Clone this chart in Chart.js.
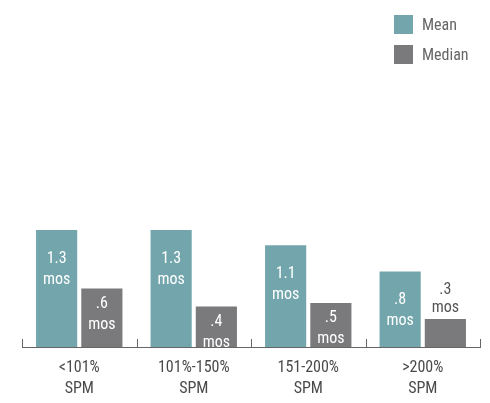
<!DOCTYPE html>
<html>
<head>
<meta charset="utf-8">
<script src="https://cdn.jsdelivr.net/npm/chart.js@4/dist/chart.umd.min.js"></script>
<style>
  html, body { margin: 0; padding: 0; background: #fff; }
  #wrap { position: relative; width: 490px; height: 403px; }
  #legend { position: absolute; left: 394px; top: 14px; font-family: 'Liberation Sans Narrow', 'Roboto Condensed', Roboto, sans-serif; font-size: 16px; color: #666; }
  #legend div { display: flex; align-items: center; height: 20px; margin-bottom: 10px; }
  #legend span.box { display: inline-block; width: 19px; height: 19px; margin-right: 9px; }
</style>
</head>
<body>
<div id="wrap">
  <canvas id="chart" width="490" height="403"></canvas>
  <div id="legend"></div>
</div>
<script>
// categories (two-line labels)
const categories = [['<101%', 'SPM'], ['101%-150%', 'SPM'], ['151-200%', 'SPM'], ['>200%', 'SPM']];

// bar heights (months)
const meanValues = [1.3, 1.3, 1.13, 0.84];
const medianValues = [0.65, 0.45, 0.49, 0.31];

// printed labels on the bars
const meanLabels = ['1.3', '1.3', '1.1', '.8'];
const medianLabels = ['.6', '.4', '.5', '.3'];

const MEAN_COLOR = '#72a6ac';
const MEDIAN_COLOR = '#7a7a7c';
const FONT = "'Liberation Sans Narrow', 'Roboto Condensed', Roboto, sans-serif";

// HTML legend
const legendEl = document.getElementById('legend');
[['Mean', MEAN_COLOR], ['Median', MEDIAN_COLOR]].forEach(([name, color]) => {
  const row = document.createElement('div');
  row.innerHTML = `<span class="box" style="background:${color}"></span>${name}`;
  legendEl.appendChild(row);
});

// tick marks at category boundaries, pointing up from the axis
const boundaryTicks = {
  id: 'boundaryTicks',
  afterDraw(chart) {
    const { ctx, scales: { x }, chartArea } = chart;
    ctx.save();
    ctx.strokeStyle = '#666';
    ctx.lineWidth = 1;
    for (let i = 0; i <= categories.length; i++) {
      const px = Math.round(x.getPixelForValue(i - 0.5)) + 0.5;
      ctx.beginPath();
      ctx.moveTo(px, chartArea.bottom);
      ctx.lineTo(px, chartArea.bottom - 8);
      ctx.stroke();
    }
    ctx.restore();
  }
};

// value labels inside (or above) bars
const barLabels = {
  id: 'barLabels',
  afterDatasetsDraw(chart) {
    const { ctx } = chart;
    const allLabels = [meanLabels, medianLabels];
    ctx.save();
    ctx.font = `16px ${FONT}`;
    ctx.textAlign = 'center';
    ctx.textBaseline = 'middle';
    chart.data.datasets.forEach((ds, di) => {
      const meta = chart.getDatasetMeta(di);
      meta.data.forEach((bar, i) => {
        const lines = [allLabels[di][i], 'mos'];
        const h = bar.base - bar.y;
        let y0;
        if (h < 35) {
          ctx.fillStyle = '#555';
          y0 = bar.y - 11 - 18;
        } else {
          ctx.fillStyle = '#fff';
          y0 = bar.y + (di === 0 ? 29 : 15);
        }
        lines.forEach((t, li) => ctx.fillText(t, bar.x, y0 + li * (h < 35 ? 18 : 21)));
      });
    });
    ctx.restore();
  }
};

new Chart(document.getElementById('chart'), {
  type: 'bar',
  data: {
    labels: categories,
    datasets: [
      { label: 'Mean', data: meanValues, backgroundColor: MEAN_COLOR, categoryPercentage: 0.79, barPercentage: 0.91 },
      { label: 'Median', data: medianValues, backgroundColor: MEDIAN_COLOR, categoryPercentage: 0.79, barPercentage: 0.91 }
    ]
  },
  options: {
    responsive: false,
    animation: false,
    layout: { padding: { top: 77, left: 22, right: 10, bottom: 0 } },
    plugins: { legend: { display: false }, tooltip: { enabled: false } },
    scales: {
      x: {
        grid: { display: false },
        border: { display: true, color: '#666', width: 1 },
        ticks: { color: '#4a4a4a', padding: 3, font: { family: FONT, size: 16, lineHeight: 1.3 }, maxRotation: 0, autoSkip: false },
        afterFit(scale) { scale.height = 56; }
      },
      y: { display: false, min: 0, max: 3 }
    }
  },
  plugins: [boundaryTicks, barLabels]
});
</script>
</body>
</html>
